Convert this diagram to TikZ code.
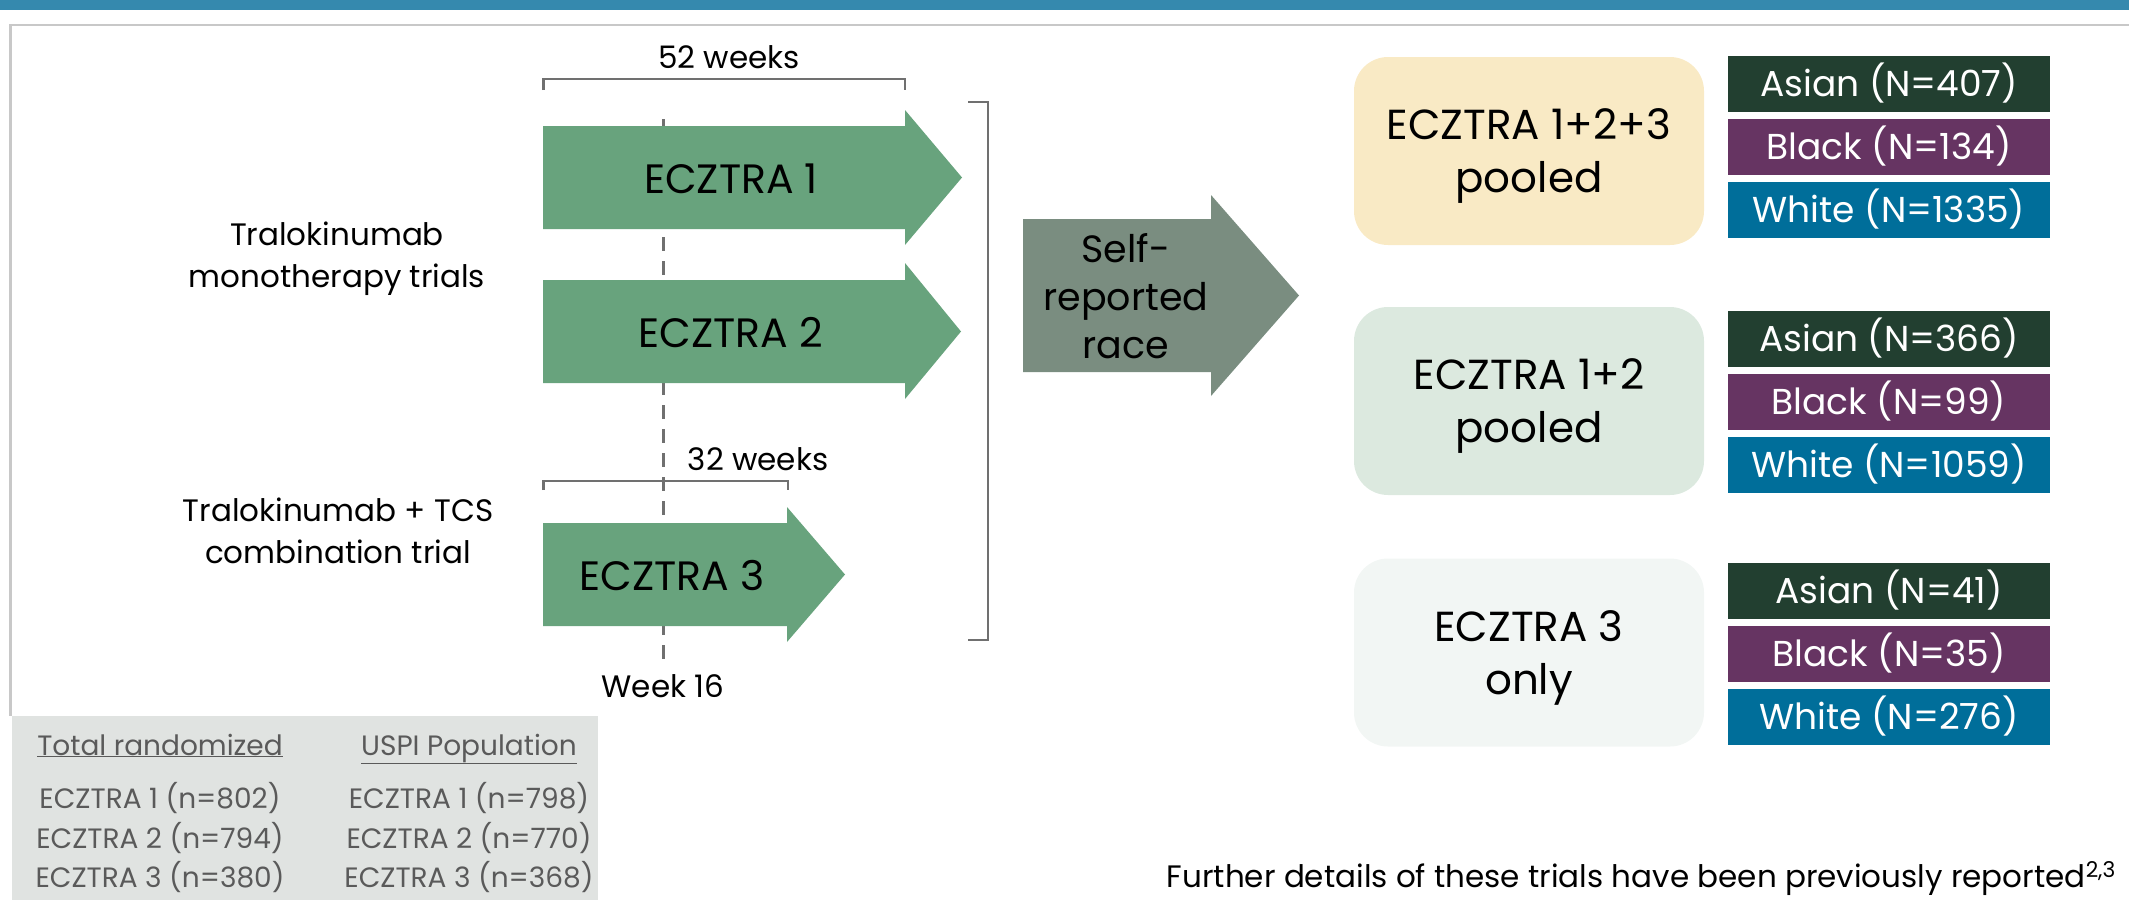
\documentclass[tikz,border=0pt]{standalone}
\usepackage{fontspec}
\setmainfont{Poppins}
\usepackage{tikz}
\usetikzlibrary{positioning}
\definecolor{barcol}{HTML}{3589AE}
\definecolor{framecol}{HTML}{C8C8C8}
\definecolor{trialcol}{HTML}{68A37D}
\definecolor{racearrowcol}{HTML}{7A8D80}
\definecolor{linecol}{HTML}{707070}
\definecolor{poolAcol}{HTML}{F9EAC5}
\definecolor{poolBcol}{HTML}{DCE9DF}
\definecolor{poolCcol}{HTML}{F2F6F4}
\definecolor{asiancol}{HTML}{223F30}
\definecolor{blackcol}{HTML}{663462}
\definecolor{whitecol}{HTML}{006E9A}
\definecolor{tablecol}{HTML}{E0E3E1}
\definecolor{tabletext}{HTML}{5A5A5A}
\newcommand{\trialfont}{\fontsize{41}{49}\selectfont}
\newcommand{\lblfont}{\fontsize{31}{42}\selectfont}
\newcommand{\selffont}{\fontsize{38}{48}\selectfont}
\newcommand{\poolfont}{\fontsize{42}{53}\selectfont}
\newcommand{\racefont}{\fontsize{36}{40}\selectfont}
\newcommand{\tablefont}{\fontsize{28}{40}\selectfont}
\tikzstyle{lbl}=[inner sep=0pt,font=\lblfont,align=center]
\tikzstyle{bracket}=[draw=linecol,line width=2.5]
\tikzstyle{weekline}=[draw=linecol,line width=3,dash pattern=on 14 off 10]
\tikzstyle{pool}=[rounded corners=34,minimum width=350,minimum height=188,
  inner sep=0pt,align=center,font=\poolfont,text depth=0pt]
\tikzstyle{race}=[minimum width=322,minimum height=56,inner sep=0pt,
  text=white,font=\racefont,text height=25pt,text depth=0pt]
\tikzstyle{tbl}=[inner sep=0pt,font=\tablefont,text=tabletext,anchor=base]

\begin{document}
\begin{tikzpicture}[x=1pt,y=-1pt]
  \useasboundingbox (0,0) rectangle (2129,900);
  \fill[barcol] (0,0) rectangle (2129,10);
  \draw[framecol,line width=2.7] (2129,25) -- (10.5,25) -- (10.5,716);
  \fill[tablecol] (12,716) rectangle (598,900);

  \node[lbl,anchor=base] (wk16) at (663,697) {Week 16};
  \draw[weekline] ([yshift=15pt]wk16.north) -- ++(0,-540);

  % trial arrows
  \fill[trialcol] (543,126) -- (905,126) -- (905,110) -- (962,177.5)
    -- (905,245) -- (905,229) -- (543,229) -- cycle;
  \fill[trialcol] (543,280) -- (905,280) -- (905,263) -- (961,331.5)
    -- (905,399) -- (905,383) -- (543,383) -- cycle;
  \fill[trialcol] (543,523) -- (787,523) -- (787,507) -- (845,574.5)
    -- (787,642) -- (787,626) -- (543,626) -- cycle;
  \node[font=\trialfont,inner sep=0pt,anchor=base] (ecA) at (731,193) {ECZTRA 1};
  \node[font=\trialfont,inner sep=0pt,anchor=base] (ecB) at (731,347) {ECZTRA 2};
  \node[font=\trialfont,inner sep=0pt,anchor=base] (ecC) at (672,590) {ECZTRA 3};

  \node[lbl,anchor=base] (w52) at (729,68) {52 weeks};
  \draw[bracket] (543.6,90) |- (905,79) -- (905,90);
  \node[lbl,anchor=base] (w32) at (758,470) {32 weeks};
  \draw[bracket] (543.6,490) |- (788,481) -- (788,490);
  \draw[bracket] (968,102) -| (988,640) -- (968,640);

  \node[lbl] (mono) at (337,259) {Tralokinumab\\monotherapy trials};
  \node[lbl] (combo) at (338,531) {Tralokinumab + TCS\\combination trial};

  % self-reported race
  \fill[racearrowcol] (1023,219) -- (1211,219) -- (1211,195) -- (1299,295.5)
    -- (1211,396) -- (1211,372) -- (1023,372) -- cycle;
  \node[inner sep=0pt,font=\selffont,align=center,text depth=0pt] (self)
    at (1126,296) {Self-\\reported\\race};

  % pooled groups
  \node[pool,fill=poolAcol] (poolA) at (1529,151) {ECZTRA 1+2+3\\pooled};
  \node[pool,fill=poolBcol] (poolB) at (1529,401) {ECZTRA 1+2\\pooled};
  \node[pool,fill=poolCcol] (poolC) at (1529,652.5) {ECZTRA 3\\only};

  \node[race,fill=blackcol] (blackA) at (1889,147) {Black (N=134)};
  \node[race,fill=asiancol,above=6.5pt of blackA] (asianA) {Asian (N=407)};
  \node[race,fill=whitecol,below=6.5pt of blackA] (whiteA) {White (N=1335)};
  \node[race,fill=blackcol] (blackB) at (1889,402) {Black (N=99)};
  \node[race,fill=asiancol,above=6.5pt of blackB] (asianB) {Asian (N=366)};
  \node[race,fill=whitecol,below=6.5pt of blackB] (whiteB) {White (N=1059)};
  \node[race,fill=blackcol] (blackC) at (1889,654) {Black (N=35)};
  \node[race,fill=asiancol,above=6.5pt of blackC] (asianC) {Asian (N=41)};
  \node[race,fill=whitecol,below=6.5pt of blackC] (whiteC) {White (N=276)};

  % randomized table
  \node[tbl] (totH) at (160,755) {\underline{Total randomized}};
  \node[tbl] (uspiH) at (469,755) {\underline{USPI Population}};
  \node[tbl] (totA) at (160,808) {ECZTRA 1 (n=802)};
  \node[tbl] (totB) at (160,848) {ECZTRA 2 (n=794)};
  \node[tbl] (totC) at (160,887) {ECZTRA 3 (n=380)};
  \node[tbl] (uspiA) at (469,808) {ECZTRA 1 (n=798)};
  \node[tbl] (uspiB) at (469,848) {ECZTRA 2 (n=770)};
  \node[tbl] (uspiC) at (469,887) {ECZTRA 3 (n=368)};

  \node[lbl,anchor=base east] (note) at (2116,887)
    {Further details of these trials have been previously reported\textsuperscript{2,3}};
\end{tikzpicture}
\end{document}
